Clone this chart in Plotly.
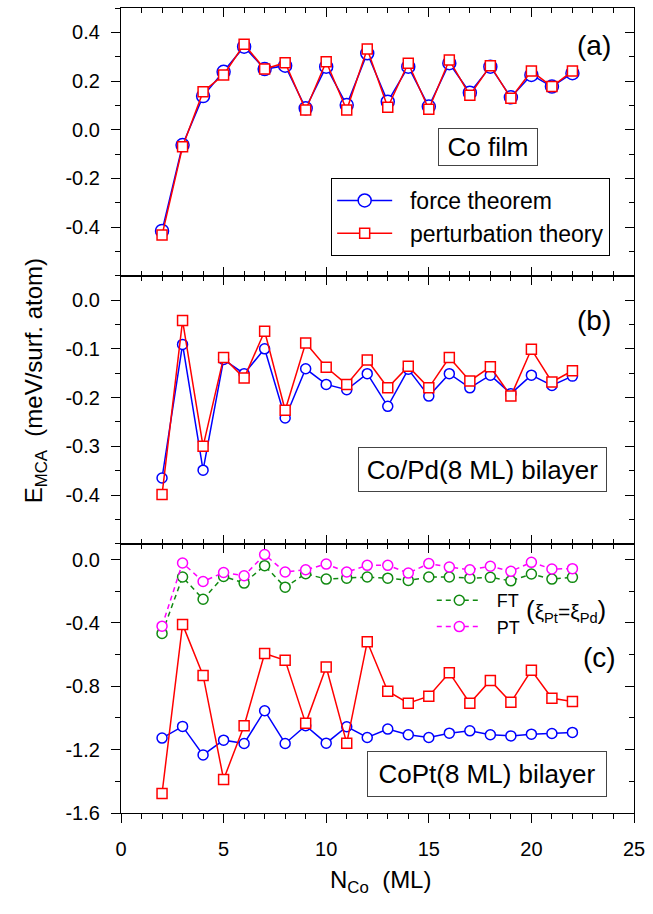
import plotly.graph_objects as go

# ---------------- data ----------------
N_CO = list(range(2, 23))

# (a) Co film
A_FT = [-0.416, -0.063, 0.138, 0.238, 0.341, 0.249, 0.263, 0.088, 0.259, 0.101, 0.314,
        0.115, 0.259, 0.095, 0.273, 0.152, 0.259, 0.133, 0.225, 0.177, 0.232]
A_PT = [-0.433, -0.070, 0.156, 0.225, 0.351, 0.249, 0.275, 0.081, 0.279, 0.081, 0.332,
        0.092, 0.273, 0.084, 0.286, 0.141, 0.263, 0.129, 0.241, 0.177, 0.241]

# (b) Co/Pd(8 ML) bilayer
B_FT = [-0.365, -0.091, -0.349, -0.122, -0.151, -0.100, -0.242, -0.141, -0.173, -0.184, -0.151,
        -0.218, -0.142, -0.197, -0.151, -0.180, -0.154, -0.192, -0.154, -0.175, -0.156]
B_PT = [-0.399, -0.042, -0.300, -0.118, -0.160, -0.064, -0.226, -0.088, -0.138, -0.173, -0.123,
        -0.180, -0.136, -0.180, -0.118, -0.166, -0.137, -0.197, -0.101, -0.168, -0.145]

# (c) CoPt(8 ML) bilayer
C_FT = [-1.127, -1.053, -1.233, -1.140, -1.161, -0.954, -1.161, -1.049, -1.159, -1.055, -1.123,
        -1.070, -1.106, -1.123, -1.096, -1.081, -1.106, -1.113, -1.102, -1.098, -1.091]
C_PT = [-1.477, -0.409, -0.731, -1.388, -1.049, -0.593, -0.636, -1.034, -0.678, -1.159, -0.519,
        -0.831, -0.907, -0.862, -0.714, -0.907, -0.763, -0.901, -0.699, -0.875, -0.896]
C_FT_EQ = [-0.466, -0.110, -0.250, -0.106, -0.148, -0.038, -0.174, -0.089, -0.123, -0.117, -0.110,
           -0.117, -0.131, -0.110, -0.110, -0.117, -0.112, -0.134, -0.091, -0.123, -0.112]
C_PT_EQ = [-0.420, -0.021, -0.138, -0.081, -0.102, 0.032, -0.078, -0.064, -0.028, -0.078, -0.036,
           -0.036, -0.085, -0.025, -0.047, -0.064, -0.042, -0.074, -0.017, -0.059, -0.057]

X_TICKS = [0, 5, 10, 15, 20, 25]
X_TICKTEXT = ["0", "5", "10", "15", "20", "25"]
A_YTICKS = [-0.4, -0.2, 0.0, 0.2, 0.4]
A_YTEXT = ["-0.4", "-0.2", "0.0", "0.2", "0.4"]
B_YTICKS = [-0.4, -0.3, -0.2, -0.1, 0.0]
B_YTEXT = ["-0.4", "-0.3", "-0.2", "-0.1", "0.0"]
C_YTICKS = [-1.6, -1.2, -0.8, -0.4, 0.0]
C_YTEXT = ["-1.6", "-1.2", "-0.8", "-0.4", "0.0"]

# ---------------- style ----------------
FONT = "Liberation Sans, Arial, sans-serif"
BLUE = "#0000FF"
RED = "#FF0000"
GREEN = "#118A11"
MAGENTA = "#FF00FF"

W, H = 653, 914
PL, PR, PT_, PB = 121, 636, 8, 813


def px_x(px):
    return (px - PL) / (PR - PL)


def px_y(py):
    return (PB - py) / (PB - PT_)


D_C = [0.0, px_y(543.8)]
D_B = [px_y(543.8), px_y(275.7)]
D_A = [px_y(275.7), 1.0]

fig = go.Figure()


def add_series(x, y, xa, ya, color, symbol, size, name, showlegend=False, legend="legend", dash="solid"):
    fig.add_trace(go.Scatter(
        x=x, y=y, xaxis=xa, yaxis=ya, mode="lines+markers", name=name,
        showlegend=showlegend, legend=legend,
        line=dict(color=color, width=1.5, dash=dash),
        marker=dict(symbol=symbol, size=size, color="white",
                    line=dict(color=color, width=1.5)),
    ))


# panel (a)
add_series(N_CO, A_FT, "x", "y", BLUE, "circle", 13, "  force theorem", True, "legend")
add_series(N_CO, A_PT, "x", "y", RED, "square", 10, "  perturbation theory", True, "legend")
# panel (b)
add_series(N_CO, B_FT, "x2", "y2", BLUE, "circle", 10, "FT b")
add_series(N_CO, B_PT, "x2", "y2", RED, "square", 10, "PT b")
# panel (c)
add_series(N_CO, C_FT_EQ, "x3", "y3", GREEN, "circle", 10, "  FT", True, "legend2", dash="5px,4px")
add_series(N_CO, C_PT_EQ, "x3", "y3", MAGENTA, "circle", 10, "  PT", True, "legend2", dash="5px,4px")
add_series(N_CO, C_FT, "x3", "y3", BLUE, "circle", 10, "FT c")
add_series(N_CO, C_PT, "x3", "y3", RED, "square", 10, "PT c")

# dummy traces so overlay (top / right) axes get drawn
for i in range(1, 4):
    xa = "x" if i == 1 else f"x{i}"
    ya = "y" if i == 1 else f"y{i}"
    fig.add_trace(go.Scatter(x=[None], y=[None], xaxis=xa, yaxis=f"y{i+3}",
                             showlegend=False, hoverinfo="skip"))
    fig.add_trace(go.Scatter(x=[None], y=[None], xaxis=f"x{i+3}", yaxis=ya,
                             showlegend=False, hoverinfo="skip"))

tickfont = dict(family=FONT, size=20, color="black")
common = dict(showgrid=False, zeroline=False, showline=True, linecolor="black",
              linewidth=1.2, tickcolor="black", tickwidth=1.2, tickfont=tickfont)


def xaxis(domain_anchor, ticks, labels, side="bottom", overlay=None):
    d = dict(common, range=[0, 25], tickmode="array", tickvals=X_TICKS, ticktext=X_TICKTEXT,
             ticks=ticks, ticklen=9, showticklabels=labels, side=side, anchor=domain_anchor,
             minor=dict(ticks=ticks, dtick=1, ticklen=5, tickcolor="black", tickwidth=1.2),
             domain=[0, 1], ticklabelstandoff=9)
    if overlay:
        d["overlaying"] = overlay
    return d


def yaxis(domain, rng, tv, tt, mdt, anchor, ticks, labels, side="left", overlay=None):
    d = dict(common, range=rng, tickmode="array", tickvals=tv, ticktext=tt,
             ticks=ticks, ticklen=9, showticklabels=labels, side=side, anchor=anchor,
             minor=dict(ticks=ticks, dtick=mdt, tick0=0, ticklen=5, tickcolor="black", tickwidth=1.2),
             domain=domain, ticklabelstandoff=7)
    if overlay:
        d["overlaying"] = overlay
    return d


layout_axes = {}
panels = [
    (1, D_A, [-0.6, 0.5], A_YTICKS, A_YTEXT, 0.1, "inside", False),
    (2, D_B, [-0.5, 0.05], B_YTICKS, B_YTEXT, 0.05, "inside", False),
    (3, D_C, [-1.6, 0.1], C_YTICKS, C_YTEXT, 0.2, "outside", True),
]
for i, dom, rng, tv, tt, mdt, xt, xl in panels:
    xn = "xaxis" if i == 1 else f"xaxis{i}"
    yn = "yaxis" if i == 1 else f"yaxis{i}"
    xref = "x" if i == 1 else f"x{i}"
    yref = "y" if i == 1 else f"y{i}"
    layout_axes[xn] = xaxis(yref, xt, xl)
    layout_axes[f"xaxis{i+3}"] = xaxis(yref, "inside", False, side="top", overlay=xref)
    layout_axes[yn] = yaxis(dom, rng, tv, tt, mdt, xref, "outside", True)
    layout_axes[f"yaxis{i+3}"] = yaxis(dom, rng, tv, tt, mdt, xref, "inside", False,
                                       side="right", overlay=yref)

fig.update_layout(**layout_axes)

annotations = [
    dict(text="(a)", x=px_x(596), y=px_y(45)),
    dict(text="(b)", x=px_x(596), y=px_y(320)),
    dict(text="(c)", x=px_x(601), y=px_y(657)),
]
for a in annotations:
    a.update(xref="paper", yref="paper", showarrow=False, xanchor="center", yanchor="middle",
             font=dict(family=FONT, size=28, color="black"))

boxes = [
    ("Co film", 489, 147, 100, 38),
    ("Co/Pd(8 ML) bilayer", 484, 469, 249, 45),
    ("CoPt(8 ML) bilayer", 488, 774, 240, 46),
]
for t, cx, cy, bw, bh in boxes:
    annotations.append(dict(text=t, x=px_x(cx), y=px_y(cy), xref="paper", yref="paper",
                            showarrow=False, xanchor="center", yanchor="middle",
                            width=bw - 2, height=bh - 2, borderpad=0,
                            bordercolor="#444444", borderwidth=1, bgcolor="white",
                            font=dict(family=FONT, size=26, color="black")))

annotations.append(dict(
    text="<span style='font-size:26px'>(</span>ξ<sub>Pt</sub>=ξ<sub>Pd</sub><span style='font-size:26px'>)</span>",
    x=px_x(526), y=px_y(611), xref="paper", yref="paper", showarrow=False,
    xanchor="left", yanchor="middle", font=dict(family=FONT, size=21, color="black")))

annotations.append(dict(
    text="E<sub>MCA</sub>  (meV/surf. atom)", x=px_x(35), y=px_y(381), xref="paper", yref="paper",
    showarrow=False, textangle=-90, xanchor="center", yanchor="middle",
    font=dict(family=FONT, size=24, color="black")))
annotations.append(dict(
    text="N<sub>Co</sub>  (ML)", x=px_x(382), y=px_y(882), xref="paper", yref="paper",
    showarrow=False, xanchor="center", yanchor="middle",
    font=dict(family=FONT, size=24, color="black")))

fig.update_layout(
    width=W, height=H,
    margin=dict(l=PL, r=W - PR, t=PT_, b=H - PB),
    paper_bgcolor="white", plot_bgcolor="white",
    annotations=annotations,
    legend=dict(x=px_x(332), y=px_y(178), xanchor="left", yanchor="top",
                bordercolor="black", borderwidth=1, bgcolor="white",
                font=dict(family=FONT, size=23, color="black"), itemwidth=55,
                entrywidth=270, entrywidthmode="pixels",
                tracegroupgap=0),
    legend2=dict(x=px_x(433), y=px_y(582), xanchor="left", yanchor="top",
                 bgcolor="rgba(0,0,0,0)", borderwidth=0,
                 font=dict(family=FONT, size=18, color="black"), itemwidth=45,
                 tracegroupgap=0),
)

fig.write_html("out.html")
